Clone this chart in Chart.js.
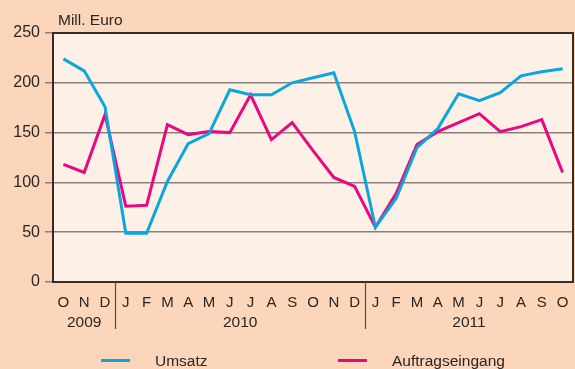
<!DOCTYPE html>
<html>
<head>
<meta charset="utf-8">
<script src="https://cdn.jsdelivr.net/npm/chart.js@4/dist/chart.umd.min.js"></script>
<style>
  html, body { margin: 0; padding: 0; background: #fcd6ba; }
  #wrap { position: relative; width: 575px; height: 369px; font-family: "Liberation Sans", Arial, sans-serif; color: #2b2523; }
  #chart { position: absolute; left: 0; top: 0; }
  .unit { position: absolute; left: 58px; top: 11px; font-size: 15.5px; line-height: 18px; }
  .key { position: absolute; top: 352px; font-size: 15.5px; line-height: 18px; }
  .swatch { position: absolute; top: 359px; width: 29px; height: 3px; }
</style>
</head>
<body>
<div id="wrap">
  <canvas id="chart" width="575" height="369"></canvas>
  <div class="unit">Mill. Euro</div>
  <div class="swatch" style="left:101px;background:#0aa6dc"></div>
  <div class="key" style="left:155px">Umsatz</div>
  <div class="swatch" style="left:338px;background:#e6097f"></div>
  <div class="key" style="left:392px">Auftragseingang</div>
</div>
<script>
// Monthly figures, October 2009 to October 2011 (Mill. Euro)
const months = ['O','N','D','J','F','M','A','M','J','J','A','S','O','N','D','J','F','M','A','M','J','J','A','S','O'];
const umsatz = [224,212,176,49,49,101,139,149,193,188,188,200,205,210,151,55,84,135,154,189,182,190,207,211,214];
const auftragseingang = [118,110,168,76,77,158,148,151,150,188,143,160,132,105,96,55,89,138,151,160,169,151,156,163,110];

// Year groups below the month letters (first and last month index)
const years = ['2009','2010','2011'];
const yearStart = [0,3,15];
const yearEnd = [2,14,24];

const yTicks = [0,50,100,150,200,250];

const BLUE = '#0aa6dc';
const PINK = '#e6097f';
const INK = '#2b2523';
const FRAME = '#3a2b22';
const GRID = '#8c817a';
const PLOT_BG = '#fdf0e7';
const FONT = '"Liberation Sans", Arial, sans-serif';

const framePlugin = {
  id: 'frame',
  beforeDraw(chart) {
    const { ctx, chartArea: a } = chart;
    ctx.save();
    ctx.fillStyle = PLOT_BG;
    ctx.fillRect(a.left, a.top, a.right - a.left, a.bottom - a.top);
    ctx.restore();
  },
  afterDraw(chart) {
    const { ctx, chartArea: a } = chart;
    const x = chart.scales.x;
    ctx.save();
    ctx.strokeStyle = FRAME;
    ctx.lineWidth = 2;
    ctx.strokeRect(a.left, a.top, a.right - a.left, a.bottom - a.top);

    // year separators and year labels
    ctx.strokeStyle = '#5a4a40';
    ctx.lineWidth = 1.2;
    for (let i = 1; i < years.length; i++) {
      const sx = Math.round((x.getPixelForValue(yearEnd[i - 1]) + x.getPixelForValue(yearStart[i])) / 2) + 0.5;
      ctx.beginPath();
      ctx.moveTo(sx, a.bottom);
      ctx.lineTo(sx, a.bottom + 47);
      ctx.stroke();
    }
    ctx.fillStyle = INK;
    ctx.font = '15.5px ' + FONT;
    ctx.textAlign = 'center';
    ctx.textBaseline = 'middle';
    years.forEach((y, i) => {
      const cx = (x.getPixelForValue(yearStart[i]) + x.getPixelForValue(yearEnd[i])) / 2;
      ctx.fillText(y, cx, a.bottom + 41);
    });
    ctx.restore();
  }
};

new Chart(document.getElementById('chart'), {
  type: 'line',
  data: {
    labels: months,
    datasets: [
      { label: 'Umsatz', data: umsatz, borderColor: BLUE, borderWidth: 3, pointRadius: 0, tension: 0, fill: false },
      { label: 'Auftragseingang', data: auftragseingang, borderColor: PINK, borderWidth: 3, pointRadius: 0, tension: 0, fill: false }
    ]
  },
  options: {
    responsive: false,
    animation: false,
    events: [],
    layout: { padding: { top: 33, right: 2, left: 0, bottom: 0 } },
    plugins: { legend: { display: false }, tooltip: { enabled: false }, title: { display: false } },
    scales: {
      x: {
        type: 'category',
        offset: true,
        grid: { display: false },
        border: { display: false },
        ticks: {
          autoSkip: false, maxRotation: 0, padding: 4,
          color: INK, font: { family: FONT, size: 15 }
        },
        afterFit(scale) { scale.height = 87; }
      },
      y: {
        min: 0, max: 250,
        afterBuildTicks(scale) { scale.ticks = yTicks.map(v => ({ value: v })); },
        grid: {
          color: ctx => (ctx.tick && (ctx.tick.value === 0 || ctx.tick.value === 250)) ? 'rgba(0,0,0,0)' : GRID,
          tickColor: GRID,
          lineWidth: 1.5,
          tickLength: 8
        },
        border: { display: false },
        ticks: {
          padding: 5,
          color: INK, font: { family: FONT, size: 16 }
        },
        afterFit(scale) { scale.width = 53; }
      }
    }
  },
  plugins: [framePlugin]
});
</script>
</body>
</html>
